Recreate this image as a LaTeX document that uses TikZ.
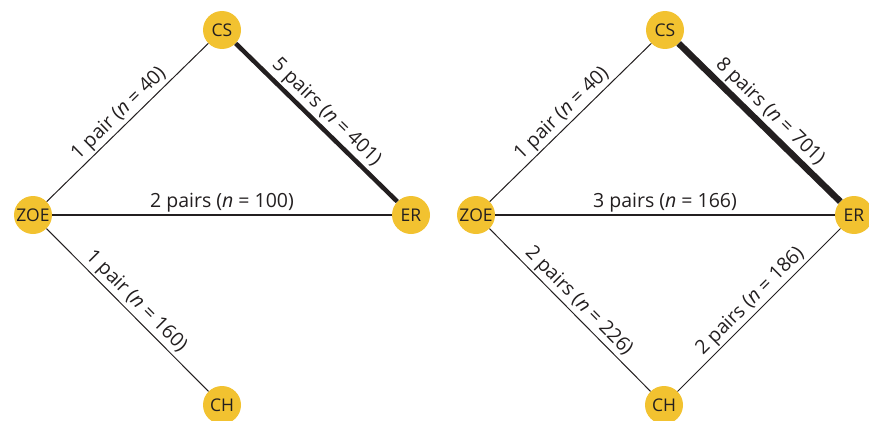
\documentclass[tikz,border=0pt]{standalone}
\usepackage{fontspec}
\setmainfont{Open Sans}
\definecolor{nodeyellow}{HTML}{F2C230}
\definecolor{ink}{HTML}{231F20}
\begin{document}
\begin{tikzpicture}[x=1pt,y=-1pt,
  pt/.style={circle,fill=nodeyellow,minimum size=38pt,inner sep=0pt,font=\fontsize{17.5}{17.5}\selectfont,text=ink},
  edge/.style={draw=ink,line width=#1},
  lab/.style={sloped,above,font=\fontsize{19.5}{19.5}\selectfont,text=ink,inner sep=2pt}]
\useasboundingbox (0,0) rectangle (869,420);
% left
\node[pt] (cs1) at (222,30) {CS};
\node[pt] (zoe1) at (33,215) {ZOE};
\node[pt] (er1) at (411,215) {ER};
\node[pt] (ch1) at (222,405) {CH};
% right
\node[pt] (cs2) at (665,30) {CS};
\node[pt] (zoe2) at (476,215) {ZOE};
\node[pt] (er2) at (854,215) {ER};
\node[pt] (ch2) at (664,405) {CH};
\path[edge=1pt] (zoe1) -- node[lab] {1 pair (\textit{n} = 40)} (cs1);
\path[edge=4.5pt] (cs1) -- node[lab] {5 pairs (\textit{n} = 401)} (er1);
\path[edge=1.5pt] (zoe1) -- node[lab] {2 pairs (\textit{n} = 100)} (er1);
\path[edge=1pt] (zoe1) -- node[lab] {1 pair (\textit{n} = 160)} (ch1);
\path[edge=1pt] (zoe2) -- node[lab] {1 pair (\textit{n} = 40)} (cs2);
\path[edge=6.5pt] (cs2) -- node[lab] {8 pairs (\textit{n} = 701)} (er2);
\path[edge=2pt] (zoe2) -- node[lab] {3 pairs (\textit{n} = 166)} (er2);
\path[edge=1pt] (zoe2) -- node[lab] {2 pairs (\textit{n} = 226)} (ch2);
\path[edge=1pt] (ch2) -- node[lab] {2 pairs (\textit{n} = 186)} (er2);
\end{tikzpicture}
\end{document}
